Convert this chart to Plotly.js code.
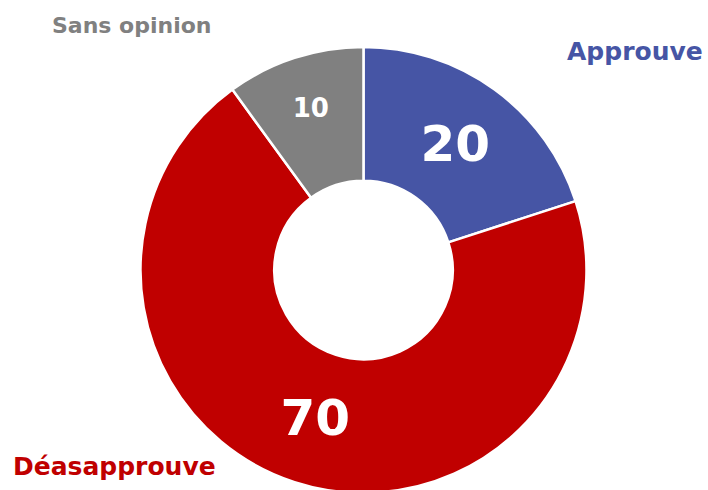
<!DOCTYPE html>
<html>
<head>
<meta charset="utf-8">
<script src="https://cdn.plot.ly/plotly-3.0.1.min.js"></script>
<style>html,body{margin:0;padding:0;overflow:hidden;background:#fff;}</style>
</head>
<body>
<div id="chart" style="width:708px;height:500px;"></div>
<script>
const labels = ["Approuve", "Déasapprouve", "Sans opinion"];
const values = [20, 70, 10];
const colors = ["#4655A5", "#C00000", "#808080"];
const valueFontSizes = [50, 50, 26];
const labelFontSizes = [25, 25, 22];

const labelPos = [
  {x: 0.996, y: 0.896, xanchor: "right"},
  {x: 0.015, y: 0.066, xanchor: "left"},
  {x: 0.070, y: 0.95, xanchor: "left"}
];

const trace = {
  type: "pie",
  labels: labels,
  values: values,
  sort: false,
  direction: "clockwise",
  rotation: 0,
  hole: 0.4,
  marker: {colors: colors, line: {color: "#ffffff", width: 2.5}},
  textinfo: "value",
  textposition: "inside",
  insidetextorientation: "horizontal",
  insidetextfont: {family: "DejaVu Sans", color: "#ffffff", size: valueFontSizes, weight: "bold"},
  domain: {x: [0.1984, 0.8284], y: [0.014, 0.906]},
  showlegend: false,
  hoverinfo: "label+value"
};

const annotations = labels.map((l, i) => ({
  text: l,
  xref: "paper", yref: "paper",
  x: labelPos[i].x, y: labelPos[i].y,
  xanchor: labelPos[i].xanchor, yanchor: "middle",
  showarrow: false,
  font: {family: "DejaVu Sans", size: labelFontSizes[i], color: colors[i], weight: "bold"}
}));

Plotly.newPlot("chart", [trace], {
  width: 708, height: 500,
  margin: {l: 0, r: 0, t: 0, b: 0},
  paper_bgcolor: "#ffffff",
  annotations: annotations
}, {displayModeBar: false, staticPlot: true});
</script>
</body>
</html>
